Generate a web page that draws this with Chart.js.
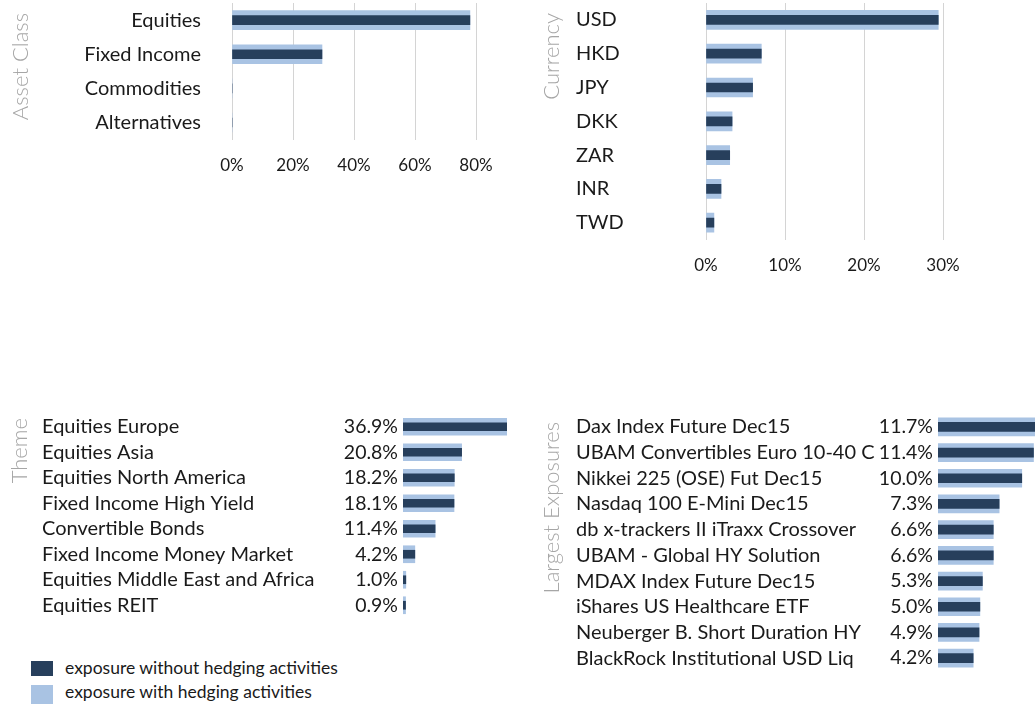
<!DOCTYPE html>
<html>
<head>
<meta charset="utf-8">
<script src="https://cdn.jsdelivr.net/npm/chart.js@4.4.0/dist/chart.umd.min.js"></script>
<style>
  body { margin: 0; width: 1035px; height: 704px; overflow: hidden; background: #fff; font-family: Lato, sans-serif; }
  canvas { position: absolute; }
  .leg { position: absolute; left: 31px; font-size: 17.5px; color: #1a1a1a; line-height: 20px; }
  .leg span { position: absolute; left: 0; width: 22px; }
  .leg div { position: absolute; left: 34px; white-space: nowrap; }
</style>
</head>
<body>
<canvas id="asset" width="520" height="192" style="left:0;top:0"></canvas>
<canvas id="ccy" width="515" height="292" style="left:520px;top:0"></canvas>
<canvas id="theme" width="520" height="240" style="left:0;top:380px"></canvas>
<canvas id="top10" width="516" height="292" style="left:520px;top:380px"></canvas>

<div class="leg" style="top:658px"><span id="sw1" style="top:3px;height:15px"></span><div>exposure without hedging activities</div></div>
<div class="leg" style="top:682px"><span id="sw2" style="top:3px;height:20px"></span><div>exposure with hedging activities</div></div>

<script>
const DARK = '#273f5c';
const LIGHT = '#a9c3e3';
const TEXT = '#1a1a1a';

// Asset class
const assetLabels = ['Equities', 'Fixed Income', 'Commodities', 'Alternatives'];
const assetNoHedge = [78.0, 29.5, 0, 0];
const assetHedge = [78.0, 29.5, 0, 0];

// Currency
const ccyLabels = ['USD', 'HKD', 'JPY', 'DKK', 'ZAR', 'INR', 'TWD'];
const ccyNoHedge = [29.4, 7.0, 5.9, 3.3, 3.0, 1.9, 1.0];
const ccyHedge = [29.4, 7.0, 5.9, 3.3, 3.0, 1.9, 1.0];

// Theme
const themeLabels = ['Equities Europe', 'Equities Asia', 'Equities North America', 'Fixed Income High Yield',
  'Convertible Bonds', 'Fixed Income Money Market', 'Equities Middle East and Africa', 'Equities REIT'];
const themeNoHedge = [36.9, 20.8, 18.2, 18.1, 11.4, 4.2, 1.0, 0.9];
const themeHedge = [36.9, 20.8, 18.2, 18.1, 11.4, 4.2, 1.0, 0.9];

// Largest exposures
const topLabels = ['Dax Index Future Dec15', 'UBAM Convertibles Euro 10-40 C', 'Nikkei 225 (OSE) Fut Dec15',
  'Nasdaq 100 E-Mini Dec15', 'db x-trackers II iTraxx Crossover', 'UBAM - Global HY Solution',
  'MDAX Index Future Dec15', 'iShares US Healthcare ETF', 'Neuberger B. Short Duration HY', 'BlackRock Institutional USD Liq'];
const topNoHedge = [11.7, 11.4, 10.0, 7.3, 6.6, 6.6, 5.3, 5.0, 4.9, 4.2];
const topHedge = [11.7, 11.4, 10.0, 7.3, 6.6, 6.6, 5.3, 5.0, 4.9, 4.2];

document.getElementById('sw1').style.background = DARK;
document.getElementById('sw2').style.background = LIGHT;

// grey rotated title on the left
const sideTitle = {
  id: 'sideTitle',
  afterDraw(chart, args, opts) {
    const ctx = chart.ctx;
    ctx.save();
    ctx.translate(opts.x, opts.top);
    ctx.rotate(-Math.PI / 2);
    ctx.font = '300 22px Lato';
    ctx.fillStyle = '#a6a6a6';
    ctx.textAlign = 'right';
    ctx.textBaseline = 'alphabetic';
    ctx.fillText(opts.text, 0, 0);
    ctx.restore();
  }
};

// percentage text in front of the bars
const valueLabels = {
  id: 'valueLabels',
  afterDatasetsDraw(chart, args, opts) {
    if (!opts.show) return;
    const { ctx, chartArea, scales } = chart;
    ctx.save();
    ctx.font = '19.5px Lato';
    ctx.fillStyle = TEXT;
    ctx.textAlign = 'right';
    ctx.textBaseline = 'middle';
    chart.data.datasets[0].data.forEach((v, i) => {
      ctx.fillText(v.toFixed(1) + '%', chartArea.left - 5, scales.y.getPixelForValue(i));
    });
    ctx.restore();
  }
};

function panel(id, labels, noHedge, hedge, o) {
  return new Chart(document.getElementById(id), {
    type: 'bar',
    data: {
      labels: labels,
      datasets: [
        { label: 'exposure without hedging activities', data: noHedge, backgroundColor: DARK, barThickness: o.dark },
        { label: 'exposure with hedging activities', data: hedge, backgroundColor: LIGHT, barThickness: o.light }
      ]
    },
    options: {
      indexAxis: 'y',
      responsive: false,
      animation: false,
      datasets: { bar: { grouped: false } },
      layout: { padding: { left: o.padL, right: o.padR, top: o.padT, bottom: o.padB } },
      plugins: {
        legend: { display: false },
        tooltip: { enabled: false },
        sideTitle: { text: o.title, x: o.titleX, top: o.titleTop },
        valueLabels: { show: o.values }
      },
      scales: {
        x: {
          display: !o.values,
          min: 0,
          max: o.xMax,
          grid: { color: '#d4d4d4', drawTicks: false },
          border: { display: false },
          ticks: { stepSize: o.xStep, padding: 16, color: TEXT, font: { family: 'Lato', size: 17 },
            callback: v => v + '%' }
        },
        y: {
          grid: { display: false, drawTicks: false },
          border: { display: false },
          ticks: { crossAlign: o.align, padding: o.tickPad, color: TEXT, autoSkip: false,
            font: { family: 'Lato', size: 20 } },
          afterFit: s => {
            s.width = o.axisW;
            s.paddingTop = 0;
            s.paddingBottom = 0;
          }
        }
      }
    },
    plugins: [sideTitle, valueLabels]
  });
}

panel('asset', assetLabels, assetNoHedge, assetHedge, {
  padL: 0, padR: 44, padT: 3, padB: 0, axisW: 232, align: 'near', tickPad: 31,
  xMax: 80, xStep: 20, dark: 9, light: 19, title: 'Asset Class', titleX: 28, titleTop: 13
});
panel('ccy', ccyLabels, ccyNoHedge, ccyHedge, {
  padL: 56, padR: 92, padT: 3, padB: 0, axisW: 130, align: 'far', tickPad: 0,
  xMax: 30, xStep: 10, dark: 9, light: 19, title: 'Currency', titleX: 39, titleTop: 13
});
panel('theme', themeLabels, themeNoHedge, themeHedge, {
  padL: 42, padR: 13, padT: 34, padB: 2, axisW: 361, align: 'far', tickPad: 0,
  xMax: 36.9, values: true, dark: 8, light: 17, title: 'Theme', titleX: 27, titleTop: 38
});
panel('top10', topLabels, topNoHedge, topHedge, {
  padL: 56, padR: 0, padT: 34, padB: 1, axisW: 362, align: 'far', tickPad: 0,
  xMax: 11.7, values: true, dark: 9, light: 18, title: 'Largest Exposures', titleX: 39, titleTop: 42
});
</script>
</body>
</html>
